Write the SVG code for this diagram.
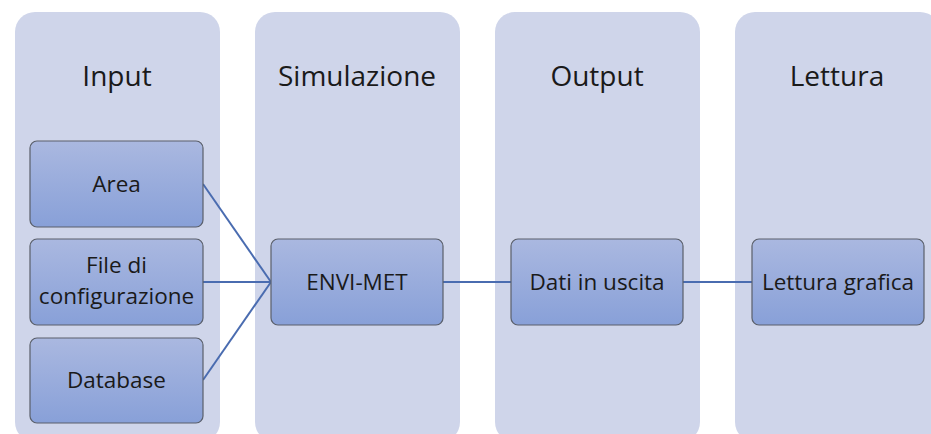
<svg xmlns="http://www.w3.org/2000/svg" width="931" height="434" viewBox="0 0 931 434">
<defs>
<linearGradient id="g" x1="0" y1="0" x2="0" y2="1">
<stop offset="0" stop-color="#aab8e0"/>
<stop offset="1" stop-color="#88a0d8"/>
</linearGradient>
<style>
.col{fill:#cfd5ea}
.hd{font-family:"Open Sans","Liberation Sans",sans-serif;font-size:28px;fill:#1a1a1a;text-anchor:middle}
.bx{fill:url(#g);stroke:#5a5f6a;stroke-width:1.2}
.t{font-family:"Open Sans","Liberation Sans",sans-serif;font-size:22.5px;fill:#1a1a1a;text-anchor:middle}
.c{stroke:#4a6cb0;stroke-width:2;fill:none}
</style>
</defs>
<rect width="931" height="434" fill="#fff"/>
<g id="col-input"><rect class="col" x="15" y="12" width="205" height="430" rx="20"/><text class="hd" x="117" y="86">Input</text></g>
<g id="col-sim"><rect class="col" x="255" y="12" width="205" height="430" rx="20"/><text class="hd" x="357" y="86">Simulazione</text></g>
<g id="col-out"><rect class="col" x="495" y="12" width="205" height="430" rx="20"/><text class="hd" x="597" y="86">Output</text></g>
<g id="col-let"><rect class="col" x="735" y="12" width="205" height="430" rx="20"/><text class="hd" x="837" y="86">Lettura</text></g>
<g id="connectors">
<line class="c" x1="203" y1="184" x2="271" y2="282"/>
<line class="c" x1="203" y1="282" x2="271" y2="282"/>
<line class="c" x1="203" y1="380" x2="271" y2="282"/>
<line class="c" x1="443" y1="282" x2="511" y2="282"/>
<line class="c" x1="683" y1="282" x2="752" y2="282"/>
</g>
<g id="area"><rect class="bx" x="30" y="141" width="173" height="86" rx="7"/><text class="t" x="116.5" y="192">Area</text></g>
<g id="file"><rect class="bx" x="30" y="239" width="173" height="86" rx="7"/><text class="t" x="116.5" y="273">File di</text><text class="t" x="116.5" y="304">configurazione</text></g>
<g id="database"><rect class="bx" x="30" y="338" width="173" height="85" rx="7"/><text class="t" x="116.5" y="388">Database</text></g>
<g id="envimet"><rect class="bx" x="271" y="239" width="172" height="86" rx="7"/><text class="t" x="357" y="290">ENVI-MET</text></g>
<g id="dati"><rect class="bx" x="511" y="239" width="172" height="86" rx="7"/><text class="t" x="597" y="290">Dati in uscita</text></g>
<g id="lettura"><rect class="bx" x="752" y="239" width="172" height="86" rx="7"/><text class="t" x="838" y="290">Lettura grafica</text></g>
</svg>
